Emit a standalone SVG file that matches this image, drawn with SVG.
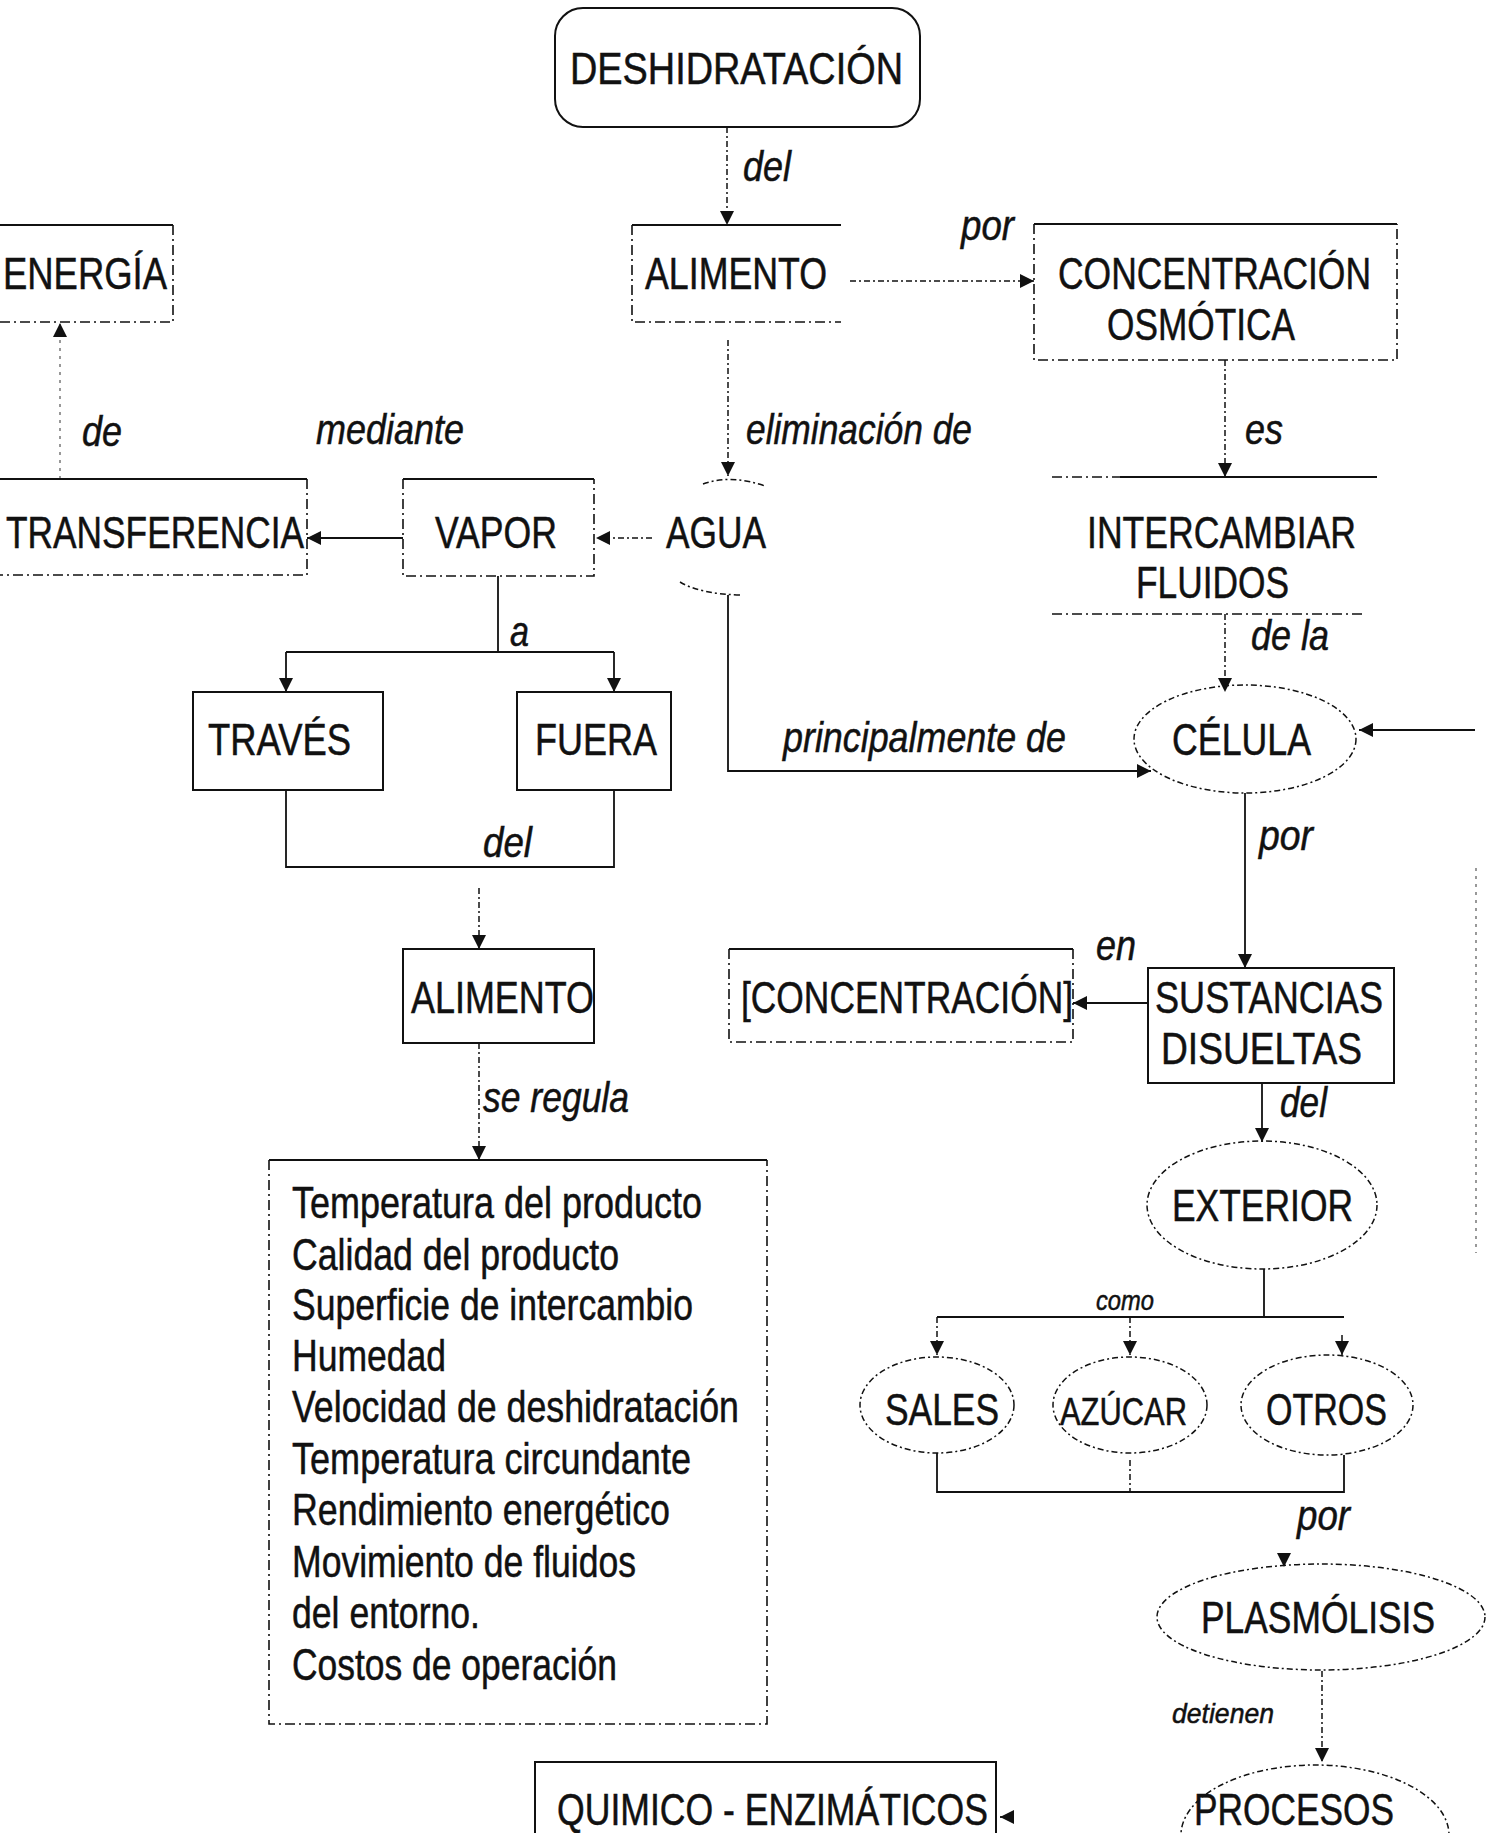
<svg xmlns="http://www.w3.org/2000/svg" width="1496" height="1833" viewBox="0 0 1496 1833">
<style>
text{font-family:"Liberation Sans",Arial,sans-serif;fill:#111;stroke:#111;stroke-width:0.5}
.n{font-size:44px}
.l{font-size:42px;font-style:italic}
.sm{font-size:28px;font-style:italic}
.s{fill:none;stroke:#111;stroke-width:2}
.d{fill:none;stroke:#111;stroke-width:1.6;stroke-dasharray:10 4 2 4}
.f{fill:none;stroke:#555;stroke-width:1.2;stroke-dasharray:3 5}
.c{fill:none;stroke:#111;stroke-width:1.8}
.cd{fill:none;stroke:#111;stroke-width:1.5;stroke-dasharray:6 3 2 3}
</style>
<defs>
<marker id="ah" viewBox="0 0 10 10" refX="10" refY="5" markerWidth="15" markerHeight="14" markerUnits="userSpaceOnUse" orient="auto"><path d="M0,0L10,5L0,10z" fill="#111"/></marker>
</defs>
<rect width="1496" height="1833" fill="#fff"/>

<g id="connectors">
<line class="cd" x1="727" y1="127" x2="727" y2="225" marker-end="url(#ah)"/>
<text class="l" x="743" y="181" textLength="48" lengthAdjust="spacingAndGlyphs">del</text>
<line class="cd" x1="850" y1="281" x2="1034" y2="281" marker-end="url(#ah)"/>
<text class="l" x="961" y="240" textLength="53" lengthAdjust="spacingAndGlyphs">por</text>
<line class="cd" x1="728" y1="340" x2="728" y2="476" marker-end="url(#ah)"/>
<text class="l" x="746" y="444" textLength="226" lengthAdjust="spacingAndGlyphs">eliminación de</text>
<line class="cd" x1="1225" y1="360" x2="1225" y2="477" marker-end="url(#ah)"/>
<text class="l" x="1245" y="444" textLength="38" lengthAdjust="spacingAndGlyphs">es</text>
<line class="cd" x1="652" y1="538" x2="596" y2="538" marker-end="url(#ah)"/>
<line class="c" x1="403" y1="538" x2="307" y2="538" marker-end="url(#ah)"/>
<text class="l" x="316" y="444" textLength="148" lengthAdjust="spacingAndGlyphs">mediante</text>
<line class="f" x1="60" y1="479" x2="60" y2="323" marker-end="url(#ah)"/>
<text class="l" x="82" y="446" textLength="40" lengthAdjust="spacingAndGlyphs">de</text>
<path class="c" d="M498,576V652M286,652H614"/>
<line class="c" x1="286" y1="652" x2="286" y2="692" marker-end="url(#ah)"/>
<line class="c" x1="614" y1="652" x2="614" y2="692" marker-end="url(#ah)"/>
<text class="l" x="510" y="646" textLength="19" lengthAdjust="spacingAndGlyphs">a</text>
<path class="c" d="M286,790V867H614V790"/>
<text class="l" x="483" y="857" textLength="49" lengthAdjust="spacingAndGlyphs">del</text>
<line class="cd" x1="479" y1="888" x2="479" y2="949" marker-end="url(#ah)"/>
<line class="cd" x1="479" y1="1043" x2="479" y2="1160" marker-end="url(#ah)"/>
<text class="l" x="483" y="1112" textLength="146" lengthAdjust="spacingAndGlyphs">se regula</text>
<path class="c" d="M728,595V771H1151" marker-end="url(#ah)"/>
<text class="l" x="783" y="752" textLength="283" lengthAdjust="spacingAndGlyphs">principalmente de</text>
<line class="cd" x1="1225" y1="614" x2="1225" y2="692" marker-end="url(#ah)"/>
<text class="l" x="1251" y="650" textLength="78" lengthAdjust="spacingAndGlyphs">de la</text>
<line class="c" x1="1475" y1="730" x2="1359" y2="730" marker-end="url(#ah)"/>
<line class="c" x1="1245" y1="793" x2="1245" y2="968" marker-end="url(#ah)"/>
<text class="l" x="1259" y="850" textLength="54" lengthAdjust="spacingAndGlyphs">por</text>
<line class="c" x1="1148" y1="1003" x2="1073" y2="1003" marker-end="url(#ah)"/>
<text class="l" x="1096" y="960" textLength="40" lengthAdjust="spacingAndGlyphs">en</text>
<line class="c" x1="1262" y1="1083" x2="1262" y2="1142" marker-end="url(#ah)"/>
<text class="l" x="1280" y="1117" textLength="47" lengthAdjust="spacingAndGlyphs">del</text>
<path class="c" d="M1264,1269V1317M937,1317H1344"/>
<text class="sm" x="1096" y="1310" textLength="58" lengthAdjust="spacingAndGlyphs">como</text>
<line class="cd" x1="937" y1="1317" x2="937" y2="1355" marker-end="url(#ah)"/>
<line class="cd" x1="1130" y1="1317" x2="1130" y2="1355" marker-end="url(#ah)"/>
<line class="cd" x1="1342" y1="1335" x2="1342" y2="1355" marker-end="url(#ah)"/>
<path class="c" d="M937,1453V1492H1344V1455"/>
<line class="cd" x1="1130" y1="1460" x2="1130" y2="1492"/>
<text class="l" x="1297" y="1530" textLength="53" lengthAdjust="spacingAndGlyphs">por</text>
<line class="cd" x1="1284" y1="1553" x2="1284" y2="1567" marker-end="url(#ah)"/>
<line class="cd" x1="1322" y1="1671" x2="1322" y2="1762" marker-end="url(#ah)"/>
<text class="sm" x="1172" y="1723" textLength="102" lengthAdjust="spacingAndGlyphs">detienen</text>
<line class="c" x1="1012" y1="1817" x2="1000" y2="1817" marker-end="url(#ah)"/>
<line class="f" x1="1476" y1="868" x2="1476" y2="1253"/>
</g>

<g id="n-deshidratacion">
<rect class="s" x="555" y="8" width="365" height="119" rx="28"/>
<text class="n" x="570" y="84" textLength="333" lengthAdjust="spacingAndGlyphs">DESHIDRATACIÓN</text>
</g>
<g id="n-alimento1">
<line class="s" x1="632" y1="225" x2="841" y2="225"/>
<path class="d" d="M632,225V322H841"/>
<text class="n" x="645" y="289" textLength="182" lengthAdjust="spacingAndGlyphs">ALIMENTO</text>
</g>
<g id="n-concentracion-osmotica">
<line class="s" x1="1034" y1="224" x2="1397" y2="224"/>
<path class="d" d="M1034,224V360H1397V224"/>
<text class="n" x="1058" y="289" textLength="313" lengthAdjust="spacingAndGlyphs">CONCENTRACIÓN</text>
<text class="n" x="1107" y="340" textLength="188" lengthAdjust="spacingAndGlyphs">OSMÓTICA</text>
</g>
<g id="n-energia">
<line class="s" x1="0" y1="225" x2="173" y2="225"/>
<path class="d" d="M173,225V322H0"/>
<text class="n" x="3" y="289" textLength="164" lengthAdjust="spacingAndGlyphs">ENERGÍA</text>
</g>
<g id="n-transferencia">
<line class="s" x1="0" y1="479" x2="307" y2="479"/>
<path class="d" d="M307,479V575H0"/>
<text class="n" x="6" y="548" textLength="298" lengthAdjust="spacingAndGlyphs">TRANSFERENCIA</text>
</g>
<g id="n-vapor">
<line class="s" x1="403" y1="479" x2="594" y2="479"/>
<path class="d" d="M403,479V576H594V479"/>
<text class="n" x="435" y="548" textLength="122" lengthAdjust="spacingAndGlyphs">VAPOR</text>
</g>
<g id="n-agua">
<path class="cd" d="M703,484Q730,474 765,486"/>
<path class="cd" d="M680,582Q700,594 740,595"/>
<text class="n" x="666" y="548" textLength="100" lengthAdjust="spacingAndGlyphs">AGUA</text>
</g>
<g id="n-intercambiar">
<line class="s" x1="1120" y1="477" x2="1377" y2="477"/>
<line class="d" x1="1052" y1="477" x2="1120" y2="477"/>
<line class="d" x1="1052" y1="614" x2="1362" y2="614"/>
<text class="n" x="1087" y="548" textLength="269" lengthAdjust="spacingAndGlyphs">INTERCAMBIAR</text>
<text class="n" x="1136" y="598" textLength="153" lengthAdjust="spacingAndGlyphs">FLUIDOS</text>
</g>
<g id="n-traves">
<rect class="s" x="193" y="692" width="190" height="98"/>
<text class="n" x="208" y="755" textLength="143" lengthAdjust="spacingAndGlyphs">TRAVÉS</text>
</g>
<g id="n-fuera">
<rect class="s" x="517" y="692" width="154" height="98"/>
<text class="n" x="535" y="755" textLength="122" lengthAdjust="spacingAndGlyphs">FUERA</text>
</g>
<g id="n-celula">
<ellipse class="cd" cx="1245" cy="739" rx="111" ry="54"/>
<text class="n" x="1172" y="755" textLength="139" lengthAdjust="spacingAndGlyphs">CÉLULA</text>
</g>
<g id="n-alimento2">
<rect class="s" x="403" y="949" width="191" height="94"/>
<text class="n" x="411" y="1013" textLength="183" lengthAdjust="spacingAndGlyphs">ALIMENTO</text>
</g>
<g id="n-concentracion">
<line class="s" x1="729" y1="949" x2="1073" y2="949"/>
<path class="d" d="M729,949V1042H1073V949"/>
<text class="n" x="741" y="1013" textLength="332" lengthAdjust="spacingAndGlyphs">[CONCENTRACIÓN]</text>
</g>
<g id="n-sustancias">
<rect class="s" x="1148" y="968" width="246" height="115"/>
<text class="n" x="1155" y="1013" textLength="228" lengthAdjust="spacingAndGlyphs">SUSTANCIAS</text>
<text class="n" x="1161" y="1064" textLength="201" lengthAdjust="spacingAndGlyphs">DISUELTAS</text>
</g>
<g id="n-lista">
<line class="s" x1="269" y1="1160" x2="767" y2="1160"/>
<path class="d" d="M269,1160V1724H767V1160"/>
<text class="n" x="292" y="1218" textLength="410" lengthAdjust="spacingAndGlyphs">Temperatura del producto</text>
<text class="n" x="292" y="1270" textLength="327" lengthAdjust="spacingAndGlyphs">Calidad del producto</text>
<text class="n" x="292" y="1320" textLength="401" lengthAdjust="spacingAndGlyphs">Superficie de intercambio</text>
<text class="n" x="292" y="1371" textLength="154" lengthAdjust="spacingAndGlyphs">Humedad</text>
<text class="n" x="292" y="1422" textLength="447" lengthAdjust="spacingAndGlyphs">Velocidad de deshidratación</text>
<text class="n" x="292" y="1474" textLength="399" lengthAdjust="spacingAndGlyphs">Temperatura circundante</text>
<text class="n" x="292" y="1525" textLength="378" lengthAdjust="spacingAndGlyphs">Rendimiento energético</text>
<text class="n" x="292" y="1577" textLength="344" lengthAdjust="spacingAndGlyphs">Movimiento de fluidos</text>
<text class="n" x="292" y="1628" textLength="188" lengthAdjust="spacingAndGlyphs">del entorno.</text>
<text class="n" x="292" y="1680" textLength="325" lengthAdjust="spacingAndGlyphs">Costos de operación</text>
</g>
<g id="n-exterior">
<ellipse class="cd" cx="1262" cy="1205" rx="115" ry="64"/>
<text class="n" x="1172" y="1221" textLength="181" lengthAdjust="spacingAndGlyphs">EXTERIOR</text>
</g>
<g id="n-sales">
<ellipse class="cd" cx="937" cy="1405" rx="77" ry="48"/>
<text class="n" x="885" y="1425" textLength="114" lengthAdjust="spacingAndGlyphs">SALES</text>
</g>
<g id="n-azucar">
<ellipse class="cd" cx="1130" cy="1405" rx="77" ry="48"/>
<text x="1060" y="1425" font-size="38" textLength="127" lengthAdjust="spacingAndGlyphs">AZÚCAR</text>
</g>
<g id="n-otros">
<ellipse class="cd" cx="1327" cy="1405" rx="86" ry="50"/>
<text class="n" x="1266" y="1425" textLength="121" lengthAdjust="spacingAndGlyphs">OTROS</text>
</g>
<g id="n-plasmolisis">
<ellipse class="cd" cx="1321" cy="1617" rx="164" ry="53"/>
<text class="n" x="1201" y="1633" textLength="234" lengthAdjust="spacingAndGlyphs">PLASMÓLISIS</text>
</g>
<g id="n-quimico">
<path class="s" d="M535,1833V1762H996V1833"/>
<text class="n" x="557" y="1825" textLength="431" lengthAdjust="spacingAndGlyphs">QUIMICO - ENZIMÁTICOS</text>
</g>
<g id="n-procesos">
<ellipse class="cd" cx="1315" cy="1835" rx="134" ry="70"/>
<text class="n" x="1194" y="1825" textLength="200" lengthAdjust="spacingAndGlyphs">PROCESOS</text>
</g>
</svg>
